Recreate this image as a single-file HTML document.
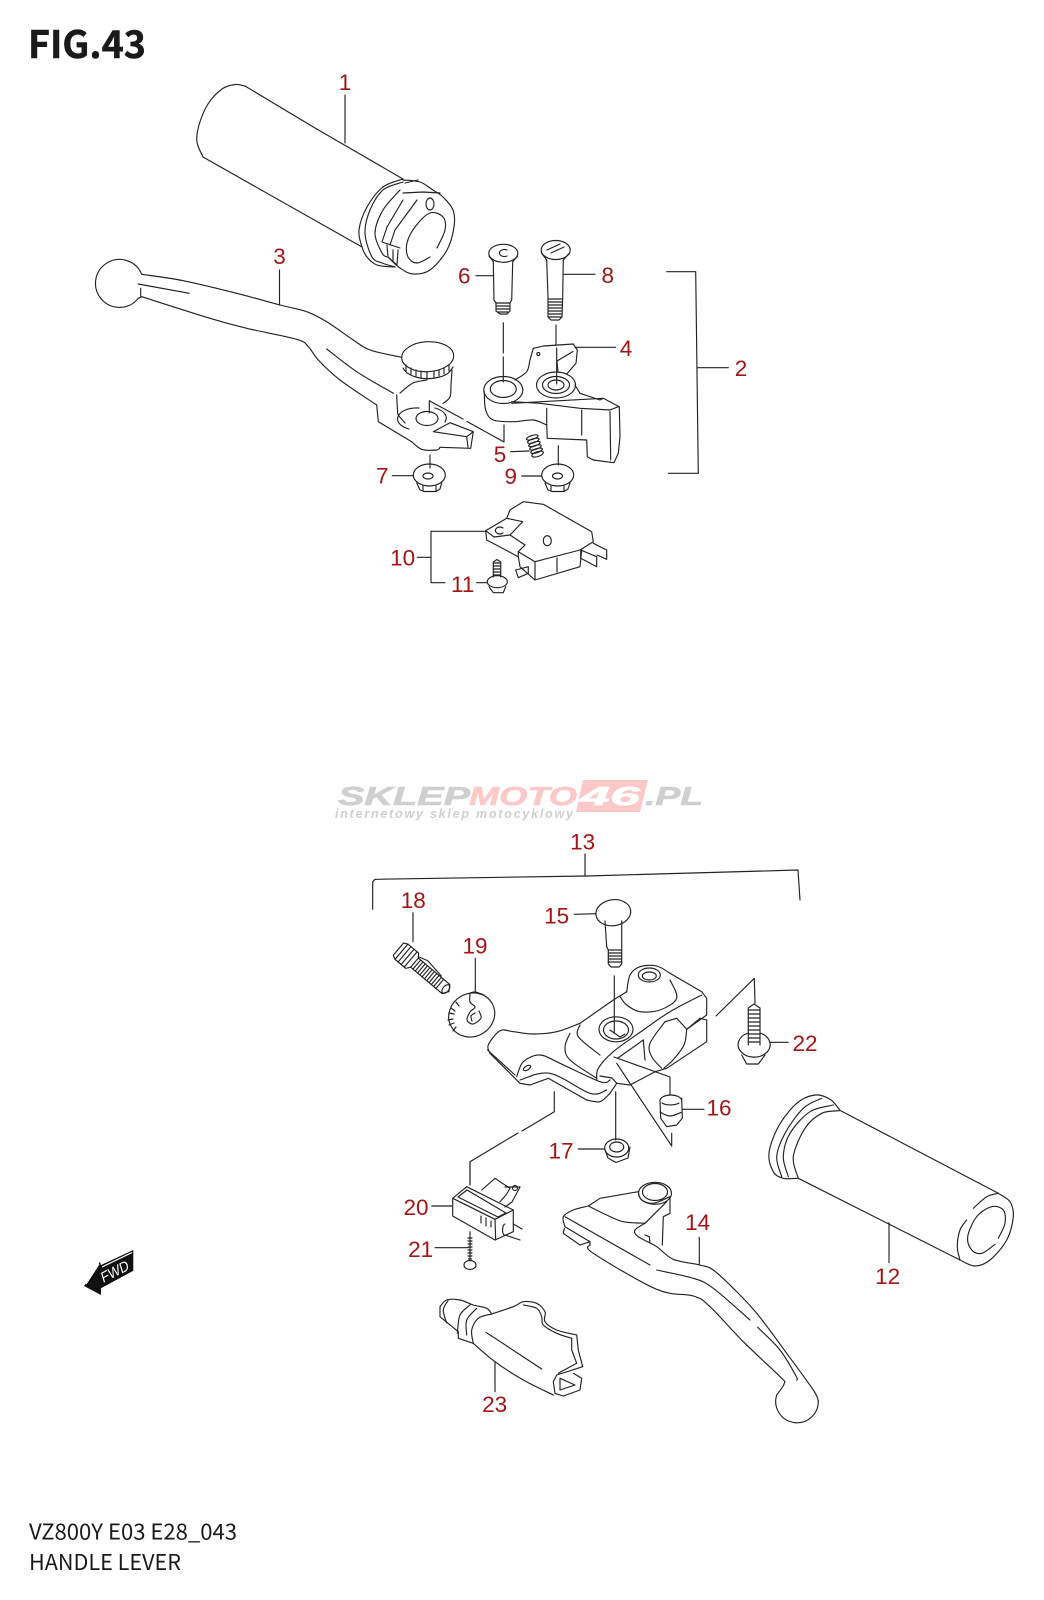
<!DOCTYPE html>
<html lang="en">
<head>
<meta charset="utf-8">
<title>FIG.43 Handle Lever</title>
<style>
html,body{margin:0;padding:0;background:#fff}
svg{display:block}
.p *{fill:none;stroke:#222;stroke-width:1.15;stroke-linejoin:round;stroke-linecap:round}
.l{font:22.5px "Liberation Sans",sans-serif;fill:#a31515;text-anchor:middle}
.h{font-family:"Noto Sans CJK JP","DejaVu Sans",sans-serif;fill:#1a1a1a}
</style>
</head>
<body>
<svg xmlns="http://www.w3.org/2000/svg" width="1044" height="1600" viewBox="0 0 1044 1600">
<rect width="1044" height="1600" fill="#fff"/>

<!-- titles -->
<text class="h" x="28" y="58" font-size="38" font-weight="700" stroke="#1a1a1a" stroke-width=".5" textLength="118" lengthAdjust="spacingAndGlyphs">FIG.43</text>
<text class="h" x="29" y="1539.5" font-size="22" textLength="208" lengthAdjust="spacingAndGlyphs">VZ800Y E03 E28_043</text>
<text class="h" x="29" y="1570" font-size="22" textLength="152" lengthAdjust="spacingAndGlyphs">HANDLE LEVER</text>

<!-- watermark -->
<polygon points="583,780 648,780 640,812 576,812" fill="#fcc8c8"/>
<g font-family="'Liberation Sans',sans-serif" font-weight="700" font-style="italic" font-size="26">
<text x="338" y="805" fill="#cfcfcf" stroke="#cfcfcf" stroke-width=".6" textLength="132" lengthAdjust="spacingAndGlyphs">SKLEP</text>
<text x="469" y="805" fill="#fcc8c8" stroke="#fcc8c8" stroke-width=".6" textLength="108" lengthAdjust="spacingAndGlyphs">MOTO</text>
<text x="580" y="805" fill="#fff" stroke="#fff" stroke-width=".6" textLength="60" lengthAdjust="spacingAndGlyphs">46</text>
<text x="645" y="805" fill="#cfcfcf" stroke="#cfcfcf" stroke-width=".6" textLength="58" lengthAdjust="spacingAndGlyphs">.PL</text>
<text x="335" y="818" fill="#cfcfcf" font-size="12.5" textLength="238" lengthAdjust="spacing">internetowy sklep motocyklowy</text>
</g>

<g class="p">
<!-- grip 1 -->
<polyline class="s" points="245,86 235,84.5 222,89 208,104 199,125 197,142 203,157"/>
<polyline points="245,86 315,128 403,179"/>
<polyline points="203,157 362,247"/>
<polyline class="s" points="403,179 383,187 367,207 359,230 362,247 367,257 377,265 395,267"/>
<polyline class="s" points="403,182 383,190 370,210 365,233 372,257 382,263 395,267"/>
<polyline class="s" points="400,190 383,210 375,233 382,253 387,257"/>
<polyline class="s" points="403,180 420,182 433,190 443,197 453,210 454,227 447,250 430,270 413,274 400,268 388,257"/>
<polyline points="403,200 387,227 382,242 400,248"/>
<polyline points="417,200 395,230 390,245"/>
<polyline points="387,245 388,257 397,265 398,250"/>
<line x1="393" y1="250" x2="393" y2="262"/>
<line x1="405" y1="183" x2="418" y2="180"/>
<polyline points="403,193 423,192 440,193"/>
<ellipse cx="430" cy="204" rx="4" ry="6"/>
<polyline class="s" points="430,257 417,263 408,257 407,243 415,227 430,213 443,217 445,230 437,248"/>

<!-- lever 3 -->
<path d="M141.7 274.3A24 24 0 1 0 138.3 298.3"/>
<polyline class="s" points="141.7,274.3 183.3,280.7 236.7,293.3 280,305 306.7,311.7 326.7,321.7 353.3,340 370,350 401.7,357.3"/>
<polyline class="s" points="141.7,296.7 210,318.3 246.7,328.3 296.7,339.3 308.3,346.7 318.3,360 340,380 376.7,405"/>
<polyline points="138.3,298.3 141.7,296.7"/>
<polyline points="376.7,405 378.3,421.7 411.7,441.7"/>
<polyline class="s" points="411.7,441.7 421.7,449.3 436.7,450 440,447.3"/>
<polyline points="440,447.3 470.7,448.3 473.3,431.7 450,422.7 433.3,431.7 466.7,436.7 473.3,431.7"/>
<line x1="466.7" y1="436.7" x2="468" y2="447"/>
<line x1="138.3" y1="284" x2="189.3" y2="293.3"/>
<line x1="140.7" y1="288.3" x2="140.7" y2="296"/>
<polyline class="s" points="326.7,349 356.7,371.7 393.3,393.3"/>
<ellipse cx="427.7" cy="356.7" rx="26" ry="15" transform="rotate(-3 427.7 356.7)"/>
<path d="M406 365v6M411 368v6M416 370v6M421 371v6M427 372v7M434 371v6M439 370v6M444 368v6M449 365v6"/>
<polyline class="s" points="403,368 408,373.5 420,378 435,378 447,374 453,367"/>
<polyline class="s" points="452,370 451,385 450,397 443,403.5"/>
<polyline class="s" points="400,393 413,383 427,380"/>
<polyline class="s" points="396.7,395 397.5,410 398.3,415 405,423"/>
<path d="M409 429a19 11 0 0 1 10-21M435 408a19 11 0 0 1 10 14"/>
<ellipse cx="427" cy="418.5" rx="11" ry="7"/>
<polyline points="429.3,413 429.3,400.7 463,419"/>
<polyline points="467,421.5 504,442 504,425"/>

<!-- bolts 6 & 8 -->
<ellipse cx="503.3" cy="253.3" rx="14.5" ry="9"/>
<polyline points="489,256 493.3,261.7"/><polyline points="517.5,256 512.7,261.7"/>
<path d="M507 250a5 3.5 0 1 0 0 6"/>
<polyline points="493.3,261.7 494,300 496,303 496,311 500,314 507,314 510,311 510,303 511.7,300 512.7,261.7"/>
<path d="M496 303h14M496 306h14M496 309h14M498 312h10"/>
<line x1="503.3" y1="322.7" x2="503.3" y2="353"/>
<line x1="503.3" y1="357" x2="503.3" y2="382"/>
<ellipse cx="555.7" cy="250" rx="14.5" ry="9.5"/>
<polyline points="541.5,253 546.7,260"/><polyline points="569.5,253 563.3,260"/>
<path d="M547 250l13-6M551 253l13-6"/>
<polyline points="546.7,260 548,297 548,317 551,320 559,320 562,317 562.7,297 563.3,260"/>
<path d="M548 299h14M548 302h14M548 305h14M548 308h14M548 311h14M548 314h14M548 317h14"/>
<line x1="556" y1="325" x2="556" y2="345"/>
<line x1="556.7" y1="348" x2="556.7" y2="384"/>

<!-- part 4 -->
<polyline class="s" points="515,380 526.7,371.7 530,360 533.3,348.3"/>
<polyline points="533.3,348.3 543.3,346 573.3,344 577.3,350 576,363.3 566.7,374"/>
<polyline points="557,361 573,351.5"/>
<polyline points="557,361 558,372"/>
<polyline class="s" points="484.3,391.7 485.7,410 493.3,420 513.3,421.7 533.3,420 546.7,425"/>
<polyline points="546.7,425 547.3,438.3 586.7,440 587.3,456.7 593.3,460 614,462.7 618.3,453.3 620,436.7 619.3,406.7 603.3,398.3 600,400 580,393.3 575,385"/>
<polyline points="511.7,401.7 540,403.3 580,408.3 610,410 618.3,406.7"/>
<line x1="511.7" y1="403.3" x2="603.3" y2="398.3"/>
<line x1="546.7" y1="408.3" x2="546.7" y2="425"/>
<line x1="581.7" y1="410" x2="581.7" y2="435"/>
<line x1="610" y1="411.7" x2="610.7" y2="460"/>
<ellipse cx="503.3" cy="390" rx="19.5" ry="13.5"/>
<ellipse cx="503.3" cy="389" rx="13" ry="8.5"/>
<ellipse cx="556" cy="385" rx="19.5" ry="13"/>
<ellipse cx="556" cy="385" rx="13.5" ry="8.5"/>
<ellipse cx="556" cy="385" rx="8" ry="5"/>
<circle cx="538.3" cy="354" r="1.5"/>

<!-- nuts 7 9 -->
<line x1="430" y1="455" x2="430" y2="468"/>
<ellipse cx="429.3" cy="475" rx="16" ry="11"/>
<polyline points="416.7,483 420,490 424,491.5 436,491.5 440,489 441.7,483"/>
<path d="M423 486v5M436 486v5"/>
<ellipse cx="428" cy="476" rx="5" ry="3"/>
<line x1="558.3" y1="445.7" x2="558.3" y2="465"/>
<ellipse cx="557.7" cy="475" rx="16" ry="11"/>
<polyline points="545,483 548,490 552,491.5 564,491.5 568,489 570,483"/>
<path d="M551 486v5M564 486v5"/>
<ellipse cx="557.5" cy="476" rx="5" ry="3"/>

<!-- spring 5 -->
<g transform="translate(535 446) rotate(-18)">
<ellipse cx="0" cy="-9" rx="6" ry="2"/><ellipse cx="0" cy="-5.5" rx="6" ry="2"/><ellipse cx="0" cy="-2" rx="6" ry="2"/><ellipse cx="0" cy="1.5" rx="6" ry="2"/><ellipse cx="0" cy="5" rx="6" ry="2"/><ellipse cx="0" cy="8.5" rx="6" ry="2.4"/>
</g>

<!-- bracket 2 & leaders -->
<polyline points="666.7,271.7 695.7,271.7 698.3,473.3 668.3,473.3"/>
<line x1="697.3" y1="367.7" x2="728.3" y2="367.7"/>
<line x1="476" y1="275.7" x2="493.3" y2="275.7"/>
<line x1="564" y1="274.3" x2="595" y2="274.3"/>
<line x1="575" y1="347.3" x2="615.7" y2="347.3"/>
<line x1="510.7" y1="451.7" x2="529" y2="451"/>
<line x1="392.3" y1="475.7" x2="412.7" y2="475.7"/>
<line x1="521.7" y1="476" x2="541.7" y2="476"/>
<line x1="345" y1="95" x2="345" y2="143"/>
<line x1="279.5" y1="270" x2="279.5" y2="305"/>

<!-- switch 10 -->
<polyline points="485.7,530.7 506.7,518.3 510,510 523.3,501.7 543.3,504.3 591.7,531.7 593.3,541.7 580,550 535,561.7 518.3,551.7 525,545 510,535"/>
<polyline points="485.7,530.7 486.7,540 518.3,556.7 520,566.7 535,580 580,566.7 581.7,550"/>
<line x1="518.3" y1="551.7" x2="518.3" y2="556.7"/>
<line x1="535" y1="561.7" x2="535" y2="580"/>
<line x1="557" y1="558" x2="557" y2="572"/>
<polyline points="506.7,518.3 522.7,521.7 510,535 494,537 485.7,530.7"/>
<path d="M503 528a4.5 3.5 0 1 0 0 5"/>
<polyline points="580.7,550 596.7,556.7 596.7,566.7 580.7,558.3 580.7,550"/>
<polyline points="593.3,543.3 606.7,550 606.7,559.3 597,555"/>
<polyline points="515.7,570 528.3,566.7 528.3,573.3 518.3,577.7 515.7,570"/>
<ellipse cx="547.3" cy="540.7" rx="4" ry="5"/>
<polyline points="485.7,531.3 431,531.3 431,582.7 445,582.7"/>
<line x1="417.3" y1="557.3" x2="431" y2="557.3"/>
<line x1="476.7" y1="582.7" x2="486.7" y2="582.7"/>
<polyline points="493.3,577 493.3,562 497,559.5 500.7,562 500.7,577"/>
<path d="M493.3 563h7.4M493.3 566h7.4M493.3 569h7.4M493.3 572h7.4M493.3 575h7.4"/>
<ellipse cx="497.3" cy="581.7" rx="10" ry="6"/>
<polyline points="489,586.7 493.3,592.7 503.3,592.7 505.7,586.7"/>

<!-- bracket 13 -->
<polyline points="372.7,909.3 372.7,881.7 375,879.3 586.7,876 798,870 800,900"/>
<line x1="585" y1="854" x2="585" y2="876"/>
<line x1="413" y1="912.7" x2="413" y2="941.7"/>
<line x1="475.3" y1="958.3" x2="475.3" y2="991.7"/>
<line x1="574.3" y1="914.3" x2="596" y2="913.7"/>

<!-- bolt 15 -->
<ellipse cx="613.3" cy="912.7" rx="17.5" ry="13" transform="rotate(-8 613.3 912.7)"/>
<line x1="605" y1="921" x2="606.7" y2="946.7"/>
<line x1="621.7" y1="921" x2="621.7" y2="946.7"/>
<polyline points="606.7,946.7 608.3,950 608.3,964 611,967 619,967 621.7,964 621.7,950 621.7,946.7"/>
<path d="M608.3 950h13.4M608.3 953h13.4M608.3 956h13.4M608.3 959h13.4M608.3 962h13.4"/>
<line x1="614.3" y1="976" x2="614.3" y2="1033"/>

<!-- adjuster 18 -->
<g transform="translate(403 953) rotate(40)">
<polyline points="-6,-8 -2,-10 12,-10 15,-6 15,6 12,10 -2,10 -6,8 -6,-8"/>
<path d="M-2-10v20M2-10v20M6-10v20M10-10v20"/>
<polyline points="15,-6 56,-6 60,0 56,6 15,6"/>
<path d="M18-6v12M21-6v12M24-6v12M27-6v12M30-6v12M33-6v12M36-6v12M39-6v12M42-6v12M45-6v12M48-6v12"/>
<ellipse cx="56" cy="0" rx="3" ry="5"/>
<polyline points="14,-7 24,-10 44,-7"/>
</g>

<!-- washer 19 -->
<ellipse cx="471.7" cy="1015" rx="23.5" ry="21.5" transform="rotate(-30 471.7 1015)"/>
<path d="M448 1020l5-1M449 1013l5 1M451 1008l4 3M456 1002l3 4M449 1025l5-2M453 1031l3-4"/>
<polyline class="s" points="470,993 470,1002 475,1007 470,1012 467,1020 473,1024 481,1018 479,1011"/>
<polyline class="s" points="475,1013 471,1016 472,1021"/>
<polyline class="s" points="470,993 475,992 484,995"/>

<!-- clamp -->
<polyline class="s" points="580,1023.3 556.7,1031.7 533.3,1034 513.3,1031.7 500,1030.7 488.3,1045 490,1053.3"/>
<polyline points="490,1053.3 515,1078.3 520,1083.3 530,1085 548.3,1078.3 586.7,1100"/>
<polyline class="s" points="586.7,1100 600,1101.7 610,1093.3"/>
<polyline points="610,1093.3 616.7,1083.3 630,1085 655,1071.7 666.7,1068.3 706.7,1041.7 706.7,1020 700,1018.3"/>
<polyline points="580,1023.3 613.3,1000 626.7,991.7"/>
<polyline class="s" points="626.7,991.7 630,975 640,966.7 656.7,966 670,973.3"/>
<polyline points="670,973.3 701.7,991.7 706.7,998.3 706.7,1015 686.7,1029.3 676.7,1018.3 665,1021.7"/>
<polyline class="s" points="665,1021.7 650,1043.3 651.7,1056.7 661.7,1068.3"/>
<line x1="700" y1="1018.3" x2="686.7" y2="1029.3"/>
<polyline class="s" points="686.7,1029.3 684,1045 673,1060 664,1068"/>
<ellipse cx="649.3" cy="975" rx="11" ry="7"/>
<ellipse cx="649.3" cy="976" rx="7" ry="4"/>
<polyline class="s" points="701.7,995 670,1011.7 643.3,1030 613.3,1051.7 598.3,1068.3 596.7,1080"/>
<polyline class="s" points="620,996.7 626.7,1005 640,1011.7 660,1010 676.7,998.3 670,980"/>
<polyline class="s" points="580,1025 578.3,1036.7 600,1055"/>
<polyline class="s" points="570,1033.3 565,1046.7 570,1060 596.7,1078.3"/>
<ellipse cx="616" cy="1029.3" rx="17" ry="12.5"/>
<ellipse cx="616" cy="1030" rx="12.5" ry="9"/>
<polyline points="610,1030 620,1037 625,1034"/>
<polyline points="643.3,1040 645,1060"/>
<polyline points="643.3,1040 618,1058"/>
<polyline points="487.5,1050 515,1075"/>
<polyline class="s" points="516.7,1076.7 523.3,1061.7 540,1055 560,1063.3 600,1081.7 610,1080"/>
<polyline class="s" points="520,1080 550,1073.3 590,1093.3 606.7,1090"/>
<ellipse cx="527" cy="1068" rx="4" ry="2" transform="rotate(-30 527 1068)"/>
<polyline points="600,1076 612,1078 616.7,1083.3"/>
<polyline points="614,1057 670,1077 670,1095"/>
<polyline points="616.7,1063.3 671.7,1146 671.7,1133.3"/>
<polyline points="554.3,1091.7 554.3,1111.7 522,1131"/>
<polyline points="518,1133 470,1161.7 470,1185"/>
<line x1="615.7" y1="1091.7" x2="615.7" y2="1140"/>

<!-- nut 17 -->
<ellipse cx="616.7" cy="1148" rx="12" ry="9"/>
<ellipse cx="616.7" cy="1147" rx="7" ry="5"/>
<polyline points="605,1150 608,1158 616,1162.5 628,1158 630,1147"/>
<line x1="578.3" y1="1149" x2="604" y2="1149"/>

<!-- bushing 16 -->
<path d="M660 1100a11 6 0 0 1 21.7 0M662 1103a10 4 0 0 0 17 0"/>
<polyline points="660,1100 660.7,1118.3 666.7,1126.7 676.7,1125 682.3,1118.3 681.7,1098.3"/>
<polyline class="s" points="660,1112 670,1116 682,1112"/>
<line x1="682.7" y1="1109.3" x2="704" y2="1109.3"/>

<!-- bolt 22 -->
<polyline points="716,1016 754.3,978.3 755,1003.3"/>
<polyline points="748.3,1045 748.3,1008 754,1004 760,1008 760,1045"/>
<path d="M748.3 1010h11.7M748.3 1014h11.7M748.3 1018h11.7M748.3 1022h11.7M748.3 1026h11.7M748.3 1030h11.7M748.3 1034h11.7M748.3 1038h11.7M748.3 1042h11.7"/>
<path d="M748.3 1033a16 12.5 0 1 0 11.7 0"/>
<polyline points="741.7,1055 746.7,1064 758.3,1064 765,1055"/>
<line x1="770" y1="1042.3" x2="788.3" y2="1042.3"/>

<!-- grip 12 -->
<line x1="839.3" y1="1110" x2="998.3" y2="1193.3"/>
<line x1="798.3" y1="1178.3" x2="960" y2="1260"/>
<polyline class="s" points="998.3,1193.3 1010,1201.7 1013.3,1216.7 1006.7,1240 990,1260 975,1266 960,1260"/>
<polyline class="s" points="998.3,1193.3 986.7,1196.7 973.3,1208.3"/>
<polyline class="s" points="966.7,1220 960,1230 957.3,1246.7 960,1260"/>
<polyline class="s" points="995,1244.3 981.7,1253.3 971.7,1250 967.7,1236.7 976.7,1216.7 991.7,1206.7 1003.3,1210 1005,1223.3 998.3,1238.3"/>
<polyline class="s" points="839.3,1109.3 830,1099.3 815,1095 796.7,1103.3 778.3,1126.7 769,1153.3 773.3,1171.7 783.3,1178.3 798.3,1178.3"/>
<polyline class="s" points="821.7,1098.3 803.3,1108.3 785,1133.3 776.7,1156.7 781.7,1176.7"/>
<polyline class="s" points="833.3,1105 810,1111.7 790,1133.3 783.3,1156.7 788.3,1176.7"/>
<polyline class="s" points="839.3,1110.7 821.7,1113.3 805,1128.3 793.3,1156.7 798.3,1178.3"/>
<line x1="889" y1="1222.7" x2="889" y2="1262.7"/>

<!-- lever 14 -->
<polyline class="s" points="565,1226.7 563.3,1216.7 573.3,1210 588.3,1206"/>
<polyline points="588.3,1206 600,1198.3 638.3,1191.7"/>
<ellipse cx="655" cy="1193.3" rx="16.5" ry="11"/>
<ellipse cx="655" cy="1192" rx="12.5" ry="8.5"/>
<polyline class="s" points="638.3,1193 641.7,1200 653.3,1203.3 670,1196.7"/>
<polyline points="670,1196.7 670,1213.3 663.3,1216.7 662.3,1245"/>
<polyline class="s" points="588.3,1206 606.7,1215 623.3,1221.7 645,1223.3"/>
<line x1="645" y1="1223.3" x2="666.7" y2="1201.7"/>
<polyline class="s" points="645,1223.3 635,1230 638.3,1236.7 656.7,1246.7 673.3,1259.3 700,1265 713.3,1270 733.3,1288.3 756.7,1313.3 786.7,1353.3 813.3,1390 818.3,1401"/>
<line x1="565" y1="1216.7" x2="650" y2="1265"/>
<polyline class="s" points="590,1245 593.3,1253.3 656.7,1289.3 693.3,1296 710,1306.7 743.3,1341.7 780,1376.7 784.3,1383.3 776.7,1395"/>
<polyline class="s" points="656.7,1270 693.3,1278.3 713.3,1288.3 750,1320"/>
<polyline class="s" points="757.7,1327.3 780,1350 796,1376 796.7,1380"/>
<path d="M818.3 1401A21.3 21.3 0 1 1 776.7 1395"/>
<polyline points="564.3,1228.3 563.3,1233.3 580,1245 590,1241.7"/>
<polyline points="565,1226.7 590,1241.7 590,1245"/>
<polyline points="645,1235 649.3,1236.7 650,1243"/>
<line x1="699.3" y1="1237.3" x2="699.3" y2="1265"/>

<!-- switch 20 -->
<polyline points="452.7,1198.3 452.7,1216 495,1240 513.3,1231.7 513.3,1210 466.7,1186.7 452.7,1198.3 495,1219.3 513.3,1210"/>
<line x1="495" y1="1219.3" x2="495.7" y2="1240"/>
<polyline points="458,1197 467,1190 506,1213 498,1217 458,1197"/>
<polyline points="481.7,1190 495,1178.3 510,1188.3 506,1195 500,1201.7"/>
<polyline points="505,1187 520,1187 512,1202 505,1207"/>
<circle cx="515" cy="1188" r="2.5"/>
<path d="M481 1216v7M486 1218v8M491 1221v6"/>
<polyline points="513.3,1224 522,1229"/>
<polyline points="505,1235 520,1240"/>
<path d="M505 1224a3 6 0 0 0 -1 11"/>
<line x1="470" y1="1162" x2="470" y2="1185"/>
<line x1="431.7" y1="1206" x2="451.7" y2="1206"/>

<!-- screw 21 -->
<line x1="470" y1="1231.7" x2="470" y2="1260"/>
<path d="M468 1238h4M468 1241h4M468 1244h4M468 1247h4M468 1250h4M468 1253h4M468 1256h4M468.5 1259h3"/>
<ellipse cx="470" cy="1265" rx="6" ry="4.5"/>
<line x1="435" y1="1247.7" x2="468" y2="1247.7"/>

<!-- boot 23 -->
<polyline class="s" points="440,1306.7 446.7,1300 460,1300 473.3,1305 486.7,1308.3 491.7,1314"/>
<polyline class="s" points="491.7,1314 513.3,1306.7 523.3,1301.7 536.7,1303.3 545,1311.7 545,1321.7 556.7,1330 576.7,1335"/>
<polyline points="576.7,1335 578.3,1350 582.7,1366.7 556.7,1375 553.3,1381.7 555,1393.3 563.3,1396 580,1390 581.7,1378.3 573.3,1373.3"/>
<polyline points="440,1306.7 440,1316.7 458.3,1331.7 458.3,1338.3 473.3,1343.3"/>
<polyline class="s" points="473.3,1343.3 495,1361.7 523.3,1380 553.3,1395"/>
<line x1="486" y1="1332.3" x2="541.7" y2="1369"/>
<polyline class="s" points="448,1300.7 443.3,1310 446.7,1323"/>
<polyline class="s" points="470,1305 460,1315 457.3,1333.3"/>
<polyline class="s" points="476.7,1308.3 466.7,1320 466.7,1335"/>
<polyline class="s" points="491.7,1314 478.3,1318.3 471.7,1330 473.3,1343.3"/>
<polyline class="s" points="523.3,1305 536.7,1308.3 541.7,1316.7 543.3,1325 556.7,1333.3 571.7,1338.3"/>
<polyline points="571.7,1338.3 571.7,1350 576.7,1363.3 558.3,1373.3"/>
<polyline points="560,1378.3 560,1390 575,1385 560,1378.3"/>
<line x1="495" y1="1361.7" x2="495" y2="1391.7"/>
</g>

<!-- FWD arrow -->
<polygon points="84,1286 100,1261.7 101,1265 133.3,1250 133.3,1270.7 101,1288.3 101,1295" fill="#111"/>
<line x1="86" y1="1284" x2="99" y2="1264" stroke="#fff" stroke-width="1.2"/>
<line x1="102" y1="1267" x2="132" y2="1252.5" stroke="#fff" stroke-width="1.2"/>
<text transform="translate(103 1283) rotate(-27) skewX(-10)" font-family="'Liberation Sans',sans-serif" font-size="14.5" fill="#fff" textLength="30" lengthAdjust="spacingAndGlyphs">FWD</text>

<!-- labels -->
<g>
<text class="l" x="345" y="90">1</text>
<text class="l" x="741" y="376">2</text>
<text class="l" x="279.5" y="264">3</text>
<text class="l" x="626" y="356">4</text>
<text class="l" x="500" y="462">5</text>
<text class="l" x="464.3" y="283.5">6</text>
<text class="l" x="382.3" y="483.5">7</text>
<text class="l" x="607.7" y="283">8</text>
<text class="l" x="510.7" y="484">9</text>
<text class="l" x="402.7" y="565.5">10</text>
<text class="l" x="462.7" y="592">11</text>
<text class="l" x="887.7" y="1284">12</text>
<text class="l" x="582.7" y="849.5">13</text>
<text class="l" x="697.7" y="1230">14</text>
<text class="l" x="556.7" y="923.5">15</text>
<text class="l" x="719" y="1115.5">16</text>
<text class="l" x="561" y="1158.5">17</text>
<text class="l" x="413.3" y="908">18</text>
<text class="l" x="475" y="953.5">19</text>
<text class="l" x="416" y="1215">20</text>
<text class="l" x="420.7" y="1257">21</text>
<text class="l" x="805" y="1051">22</text>
<text class="l" x="494.7" y="1412">23</text>
</g>
</svg>
<script>
document.querySelectorAll('polyline.s').forEach(function(e){
  var n=e.getAttribute('points').trim().split(/\s+/).map(function(s){return s.split(',').map(Number)});
  var d='M'+n[0][0]+' '+n[0][1];
  for(var i=0;i<n.length-1;i++){
    var a=n[Math.max(i-1,0)],b=n[i],c=n[i+1],f=n[Math.min(i+2,n.length-1)];
    d+='C'+(b[0]+(c[0]-a[0])/6).toFixed(1)+' '+(b[1]+(c[1]-a[1])/6).toFixed(1)+' '+(c[0]-(f[0]-b[0])/6).toFixed(1)+' '+(c[1]-(f[1]-b[1])/6).toFixed(1)+' '+c[0]+' '+c[1];
  }
  var p=document.createElementNS('http://www.w3.org/2000/svg','path');
  p.setAttribute('d',d);
  e.parentNode.replaceChild(p,e);
});
</script>
</body>
</html>
